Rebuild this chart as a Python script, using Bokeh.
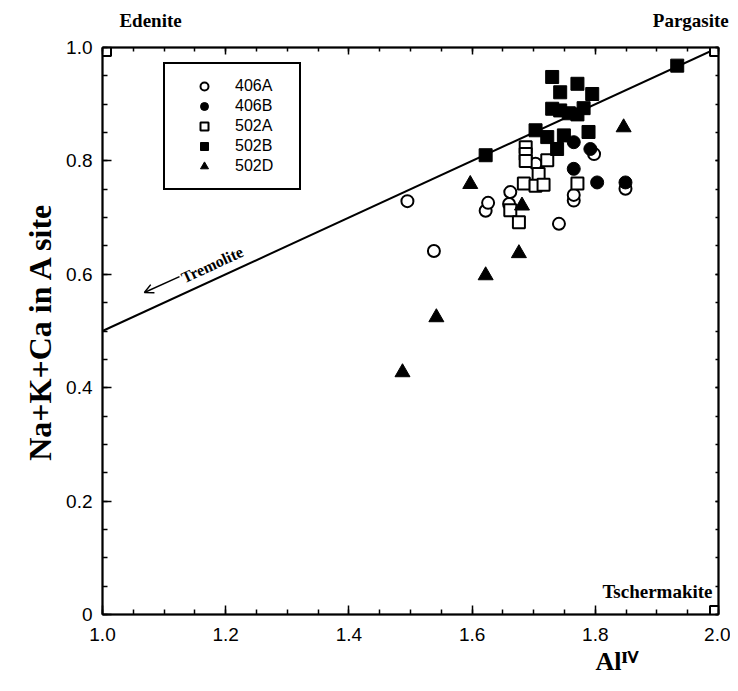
import math
from bokeh.plotting import figure
from bokeh.models import (FixedTicker, LinearAxis, Range1d, Label, Arrow, OpenHead,
                          Legend, LegendItem, CustomJSTickFormatter, Title)
from bokeh.embed import file_html
from bokeh.resources import INLINE

# ---------------- data ----------------
a406_x = [1.495, 1.538, 1.622, 1.626, 1.660, 1.662, 1.703, 1.741, 1.765, 1.765, 1.798, 1.849]
a406_y = [0.729, 0.641, 0.712, 0.726, 0.724, 0.745, 0.795, 0.689, 0.730, 0.740, 0.812, 0.751]

b406_x = [1.765, 1.792, 1.765, 1.803, 1.849]
b406_y = [0.833, 0.821, 0.786, 0.762, 0.762]

a502_x = [1.687, 1.687, 1.687, 1.722, 1.708, 1.684, 1.703, 1.716, 1.771, 1.662, 1.676]
a502_y = [0.824, 0.812, 0.800, 0.801, 0.777, 0.760, 0.756, 0.758, 0.760, 0.713, 0.692]

b502_x = [1.622, 1.703, 1.722, 1.738, 1.749, 1.789, 1.730, 1.743, 1.757, 1.771, 1.781,
          1.730, 1.743, 1.771, 1.795, 1.933]
b502_y = [0.810, 0.854, 0.842, 0.821, 0.845, 0.851, 0.892, 0.889, 0.884, 0.882, 0.893,
          0.948, 0.921, 0.936, 0.918, 0.968]

d502_x = [1.487, 1.542, 1.622, 1.676, 1.681, 1.597, 1.846]
d502_y = [0.427, 0.524, 0.598, 0.637, 0.721, 0.759, 0.859]

end_x = [1.0, 2.0, 2.0]
end_y = [1.0, 1.0, 0.0]
end_names = ["Edenite", "Pargasite", "Tschermakite"]
# horizontal centres of the two upper end-member captions (data units)
top_caption_x = [1.078, 1.955]

line_x = [1.0, 2.0]
line_y = [0.5, 1.0]

x_ticks = [1.0, 1.2, 1.4, 1.6, 1.8, 2.0]
x_tick_labels = ["1.0", "1.2", "1.4", "1.6", "1.8", "2.0"]
y_ticks = [0.0, 0.2, 0.4, 0.6, 0.8, 1.0]
y_tick_labels = ["0", "0.2", "0.4", "0.6", "0.8", "1.0"]
x_minor = [round(1.0 + 0.05 * i, 2) for i in range(21)]
y_minor = [round(0.05 * i, 2) for i in range(21)]

# ---------------- figure ----------------
W, H = 730, 683
p = figure(width=W, height=H, x_range=Range1d(1.0, 2.0), y_range=Range1d(0.0, 1.0),
           output_backend="svg", toolbar_location=None,
           min_border_left=102, min_border_right=12, min_border_top=47, min_border_bottom=69)
p.xgrid.visible = False
p.ygrid.visible = False
p.outline_line_color = "black"
p.outline_line_width = 1.5
p.background_fill_color = "white"
p.border_fill_color = "white"

TICK_FONT = "Liberation Sans"
SERIF = "Liberation Serif"

def style_axis(ax, ticks, minor, labels, tin, mtin, show_labels=True):
    ax.ticker = FixedTicker(ticks=ticks, minor_ticks=minor)
    ax.axis_line_color = "black"
    ax.axis_line_width = 2
    ax.major_tick_line_color = "black"
    ax.major_tick_line_width = 1.5
    ax.minor_tick_line_color = "black"
    ax.minor_tick_line_width = 1.5
    ax.major_tick_in = tin
    ax.major_tick_out = 0
    ax.minor_tick_in = mtin
    ax.minor_tick_out = 0
    if show_labels:
        ax.major_label_overrides = {t: l for t, l in zip(ticks, labels)}
        ax.major_label_text_font = TICK_FONT
        ax.major_label_text_font_size = "19px"
        ax.major_label_text_color = "black"
    else:
        ax.formatter = CustomJSTickFormatter(code="return ''")
        ax.major_label_text_font_size = "1px"
        ax.major_label_standoff = 0

xb = p.xaxis[0]
style_axis(xb, x_ticks, x_minor, x_tick_labels, 9, 5)
xb.major_label_standoff = 13
yl = p.yaxis[0]
style_axis(yl, y_ticks, y_minor, y_tick_labels, 9, 5)
yl.major_label_standoff = 10

xt = LinearAxis()
style_axis(xt, x_ticks, x_minor, x_tick_labels, 7, 4, show_labels=False)
p.add_layout(xt, "above")
yr = LinearAxis()
style_axis(yr, y_ticks, y_minor, y_tick_labels, 3, 3, show_labels=False)
p.add_layout(yr, "right")

# captions for Edenite / Pargasite carried by an unlined axis above the frame
xcap = LinearAxis(ticker=FixedTicker(ticks=top_caption_x, minor_ticks=[]))
xcap.major_label_overrides = {top_caption_x[0]: end_names[0], top_caption_x[1]: end_names[1]}
xcap.axis_line_color = None
xcap.major_tick_line_color = None
xcap.minor_tick_line_color = None
xcap.major_label_text_font = SERIF
xcap.major_label_text_font_size = "19px"
xcap.major_label_text_font_style = "bold"
xcap.major_label_text_color = "black"
xcap.major_label_standoff = 11
p.add_layout(xcap, "above")

# axis titles as side-panel titles (not clipped by the frame)
ytitle = Title(text="Na+K+Ca in A site", align="center", standoff=12,
               text_font=SERIF, text_font_size="32px", text_font_style="bold",
               text_color="black")
p.add_layout(ytitle, "left")
xtitle = Title(text="Al\u1d35\u2c7d", align="left", offset=493, standoff=2,
               text_font=SERIF, text_font_size="26px", text_font_style="bold",
               text_color="black")
p.add_layout(xtitle, "below")

# ---------------- data marks ----------------
p.line(line_x, line_y, line_color="black", line_width=2)

r_a406 = p.scatter(a406_x, a406_y, marker="circle", size=12, fill_color="white",
                   line_color="black", line_width=2)
r_b406 = p.scatter(b406_x, b406_y, marker="circle", size=13, fill_color="black",
                   line_color="black", line_width=1)
r_a502 = p.scatter(a502_x, a502_y, marker="square", size=12, fill_color="white",
                   line_color="black", line_width=2)
r_b502 = p.scatter(b502_x, b502_y, marker="square", size=13, fill_color="black",
                   line_color="black", line_width=1)
r_d502 = p.scatter(d502_x, d502_y, marker="triangle", size=15, fill_color="black",
                   line_color="black", line_width=1)

p.scatter(end_x, end_y, marker="square", size=17, fill_color="white",
          line_color="black", line_width=2)

p.add_layout(Label(x=end_x[2], y=end_y[2], text=end_names[2], x_offset=-6, y_offset=23,
                   text_font=SERIF, text_font_size="19px", text_font_style="bold",
                   text_color="black", text_align="right", text_baseline="middle"))

# Tremolite arrow and label
p.add_layout(Arrow(end=OpenHead(size=9, line_width=1.5, line_color="black"),
                   x_start=1.125, y_start=0.596, x_end=1.068, y_end=0.568,
                   line_width=1.5, line_color="black"))
ang = math.atan2(0.5 * 567, 616)
p.add_layout(Label(x=1.178, y=0.617, text="Tremolite", angle=ang,
                   text_font=SERIF, text_font_size="16px", text_font_style="bold",
                   text_color="black", text_align="center", text_baseline="middle"))

# ---------------- legend ----------------
legend = Legend(items=[
    LegendItem(label="406A", renderers=[r_a406]),
    LegendItem(label="406B", renderers=[r_b406]),
    LegendItem(label="502A", renderers=[r_a502]),
    LegendItem(label="502B", renderers=[r_b502]),
    LegendItem(label="502D", renderers=[r_d502]),
], location=(61, 424))
legend.glyph_width = 54
legend.glyph_height = 20
legend.label_height = 20
legend.label_width = 52
legend.label_standoff = 4
legend.padding = 12
legend.spacing = 0
legend.margin = 0
legend.border_line_color = "black"
legend.border_line_alpha = 1.0
legend.border_line_width = 2
legend.background_fill_color = "white"
legend.background_fill_alpha = 1.0
legend.label_text_font = TICK_FONT
legend.label_text_font_size = "16px"
legend.label_text_color = "black"
legend.label_text_baseline = "middle"
p.add_layout(legend, "center")

open("out.html", "w").write(file_html(p, INLINE))
